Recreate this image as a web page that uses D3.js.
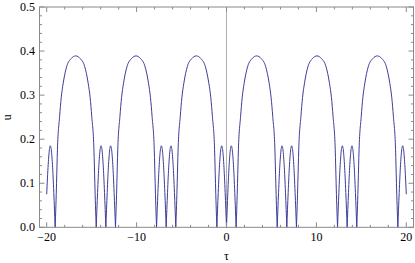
<!DOCTYPE html>
<html><head><meta charset="utf-8">
<script src="https://cdn.jsdelivr.net/npm/d3@7"></script>
<style>body{margin:0;background:#fff}svg{display:block}text{font-family:"Liberation Serif",serif}</style>
</head><body><svg id="c" width="415" height="263"></svg>
<script>
// Data
const tau = [
 -20,-19.83,-19.68,-19.595,-19.51,-19.36,-19.21,-19.06,
 -18.975,-18.905,-18.805,-18.565,-18.38,-18.165,-17.775,-17.275,-16.775,-16.275,-15.775,-15.385,-15.17,-14.985,-14.745,-14.645,-14.575,-14.49,
 -14.34,-14.19,-14.04,-13.955,-13.87,-13.72,-13.57,-13.42,-13.27,-13.12,-12.97,-12.885,-12.80,-12.65,-12.50,-12.35,
 -12.265,-12.195,-12.095,-11.855,-11.67,-11.455,-11.065,-10.565,-10.065,-9.565,-9.065,-8.675,-8.46,-8.275,-8.035,-7.935,-7.865,-7.78,
 -7.63,-7.48,-7.33,-7.245,-7.16,-7.01,-6.86,-6.71,-6.56,-6.41,-6.26,-6.175,-6.09,-5.94,-5.79,-5.64,
 -5.555,-5.485,-5.385,-5.145,-4.96,-4.745,-4.355,-3.855,-3.355,-2.855,-2.355,-1.965,-1.75,-1.565,-1.325,-1.225,-1.155,-1.07,
 -0.92,-0.77,-0.62,-0.535,-0.45,-0.30,-0.15,0,0.15,0.30,0.45,0.535,0.62,0.77,0.92,1.07,
 1.155,1.225,1.325,1.565,1.75,1.965,2.355,2.855,3.355,3.855,4.355,4.745,4.96,5.145,5.385,5.485,5.555,5.64,
 5.79,5.94,6.09,6.175,6.26,6.41,6.56,6.71,6.86,7.01,7.16,7.245,7.33,7.48,7.63,7.78,
 7.865,7.935,8.035,8.275,8.46,8.675,9.065,9.565,10.065,10.565,11.065,11.455,11.67,11.855,12.095,12.195,12.265,12.35,
 12.50,12.65,12.80,12.885,12.97,13.12,13.27,13.42,13.57,13.72,13.87,13.955,14.04,14.19,14.34,14.49,
 14.575,14.645,14.745,14.985,15.17,15.385,15.775,16.275,16.775,17.275,17.775,18.165,18.38,18.565,18.805,18.905,18.975,19.06,
 19.21,19.36,19.51,19.595,19.68,19.83,20
];
const u = [
 0.075,0.143,0.179,0.185,0.179,0.143,0.079,0,
 0.05,0.10,0.176,0.251,0.295,0.327,0.365,0.383,0.389,0.383,0.365,0.327,0.295,0.251,0.176,0.10,0.05,0,
 0.079,0.143,0.179,0.185,0.179,0.143,0.079,0,0.079,0.143,0.179,0.185,0.179,0.143,0.079,0,
 0.05,0.10,0.176,0.251,0.295,0.327,0.365,0.383,0.389,0.383,0.365,0.327,0.295,0.251,0.176,0.10,0.05,0,
 0.079,0.143,0.179,0.185,0.179,0.143,0.079,0,0.079,0.143,0.179,0.185,0.179,0.143,0.079,0,
 0.05,0.10,0.176,0.251,0.295,0.327,0.365,0.383,0.389,0.383,0.365,0.327,0.295,0.251,0.176,0.10,0.05,0,
 0.079,0.143,0.179,0.185,0.179,0.143,0.079,0,0.079,0.143,0.179,0.185,0.179,0.143,0.079,0,
 0.05,0.10,0.176,0.251,0.295,0.327,0.365,0.383,0.389,0.383,0.365,0.327,0.295,0.251,0.176,0.10,0.05,0,
 0.079,0.143,0.179,0.185,0.179,0.143,0.079,0,0.079,0.143,0.179,0.185,0.179,0.143,0.079,0,
 0.05,0.10,0.176,0.251,0.295,0.327,0.365,0.383,0.389,0.383,0.365,0.327,0.295,0.251,0.176,0.10,0.05,0,
 0.079,0.143,0.179,0.185,0.179,0.143,0.079,0,0.079,0.143,0.179,0.185,0.179,0.143,0.079,0,
 0.05,0.10,0.176,0.251,0.295,0.327,0.365,0.383,0.389,0.383,0.365,0.327,0.295,0.251,0.176,0.10,0.05,0,
 0.079,0.143,0.179,0.185,0.179,0.143,0.075
];
const xMajor = [-20,-10,0,10,20];
const xLabels = ["\u221220","\u221210","0","10","20"];
const xMinor = d3.range(-20,21,2);
const yMajor = [0,0.1,0.2,0.3,0.4,0.5];
const yLabels = ["0.0","0.1","0.2","0.3","0.4","0.5"];
const yMinor = d3.range(0,0.5001,0.02);
const xTitle = "\u03c4", yTitle = "u";

const L=39.5, R=413.5, T=7, B=227.3;
const x = d3.scaleLinear().domain([-20.8,20.8]).range([L,R]);
const y = d3.scaleLinear().domain([0,0.5]).range([B,T]);
const svg = d3.select("#c");
const frameCol="#8a8a8a";

// y axis line at tau=0
svg.append("line").attr("x1",x(0)).attr("x2",x(0)).attr("y1",T).attr("y2",B)
  .attr("stroke","#b0b0b0").attr("stroke-width",1);

// curve split at zeros
const pts = tau.map((t,i)=>[t,u[i]]);
const segs=[]; let cur=[];
pts.forEach((p,i)=>{cur.push(p); if(p[1]===0 && cur.length>1){segs.push(cur); cur=[p];}});
if(cur.length>1) segs.push(cur);
const line = d3.line().x(d=>x(d[0])).y(d=>y(d[1])).curve(d3.curveMonotoneX);
svg.append("path").attr("d",segs.map(s=>line(s)).join(""))
  .attr("fill","none").attr("stroke","#3d3d99").attr("stroke-width",1);

// frame
const g = svg.append("g").attr("stroke",frameCol).attr("stroke-width",1);
g.append("rect").attr("x",L).attr("y",T).attr("width",R-L).attr("height",B-T).attr("fill","none");
const isMajX = v=>xMajor.some(m=>Math.abs(m-v)<1e-9);
xMinor.forEach(v=>{
  const len = isMajX(v)?5:2.5;
  g.append("line").attr("x1",x(v)).attr("x2",x(v)).attr("y1",B).attr("y2",B-len);
  g.append("line").attr("x1",x(v)).attr("x2",x(v)).attr("y1",T).attr("y2",T+len);
});
const isMajY = v=>yMajor.some(m=>Math.abs(m-v)<1e-9);
yMinor.forEach(v=>{
  const len = isMajY(v)?5:2.5;
  g.append("line").attr("x1",L).attr("x2",L+len).attr("y1",y(v)).attr("y2",y(v));
  g.append("line").attr("x1",R).attr("x2",R-len).attr("y1",y(v)).attr("y2",y(v));
});

// labels
xMajor.forEach((v,i)=>svg.append("text").attr("x",x(v)).attr("y",B+14)
  .attr("text-anchor","middle").attr("font-size",12).text(xLabels[i]));
yMajor.forEach((v,i)=>svg.append("text").attr("x",L-4.5).attr("y",y(v)+4)
  .attr("text-anchor","end").attr("font-size",12).text(yLabels[i]));
svg.append("text").attr("x",x(0)).attr("y",260).attr("text-anchor","middle")
  .attr("font-size",12).text(xTitle);
svg.append("text").attr("transform",`translate(11,${(T+B)/2}) rotate(-90)`)
  .attr("text-anchor","middle").attr("font-size",12).text(yTitle);
</script></body></html>
